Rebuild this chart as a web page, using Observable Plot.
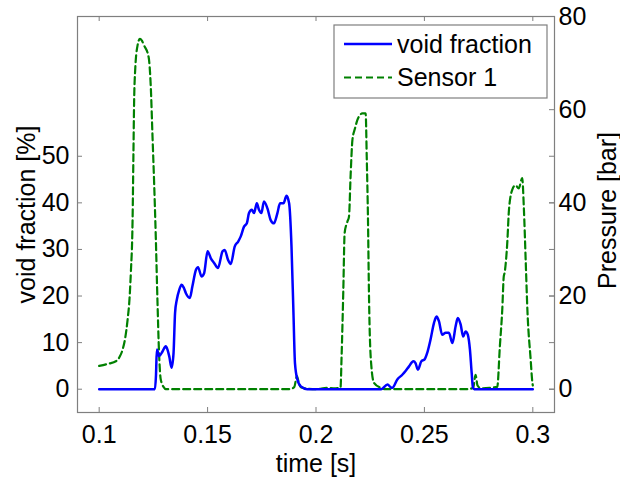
<!DOCTYPE html>
<html>
<head>
<meta charset="utf-8">
<script src="https://cdn.jsdelivr.net/npm/d3@7"></script>
<script src="https://cdn.jsdelivr.net/npm/@observablehq/plot@0.6"></script>
<style>
  html, body { margin: 0; padding: 0; background: #fff; }
  #chart { position: relative; width: 620px; height: 480px; }
</style>
</head>
<body>
<div id="chart"></div>
<script>
// ---- data ----
const voidT = [0.100,0.1257,0.1262,0.1266,0.1277,0.1292,0.1307,0.1315,0.1323,0.1334,0.1343,0.1350,0.1358,0.1369,0.1380,0.1390,0.1400,0.1418,0.1430,0.1446,0.1456,0.1472,0.1484,0.1500,0.1515,0.1530,0.1548,0.1569,0.1579,0.1594,0.1607,0.1625,0.1641,0.1653,0.1668,0.1681,0.1691,0.1704,0.1714,0.1727,0.1737,0.1748,0.1760,0.1776,0.1791,0.1806,0.1822,0.1834,0.1850,0.1864,0.1876,0.1887,0.1896,0.1903,0.1914,0.1930,0.1960,0.2300,0.2330,0.2345,0.2352,0.2375,0.2398,0.2413,0.2429,0.2449,0.2459,0.2470,0.2486,0.2501,0.2513,0.2528,0.2544,0.2556,0.2567,0.2582,0.2598,0.2613,0.2629,0.2644,0.2654,0.2667,0.2679,0.2690,0.2700,0.2710,0.2718,0.2724,0.2730,0.3000];
const voidV = [0,0,3,8.5,7.1,8.1,9.2,8.5,7.1,4.6,7.8,16.4,19.2,21.3,22.4,21.8,20.6,19.6,22.1,25.6,26.2,24.2,24.9,29.6,28.1,27.1,26.0,29.6,29.9,27.8,26.9,30.6,31.7,32.8,34.9,35.6,37.8,38.5,37.8,39.9,38.5,37.8,40.3,38.8,36.3,35.6,37.8,39.9,39.9,41.5,39.9,30.6,16.4,5.6,2.1,0.6,0,0,1.0,0.4,0.3,2.1,3.1,3.9,4.9,6.0,5.6,4.2,6.0,6.4,7.8,10.6,14.2,15.6,14.6,11.7,12.1,12.1,9.9,13.5,15.3,13.9,11.3,12.4,11.7,8.5,3.5,0.3,0,0];

const sensorT = [0.100,0.1045,0.1077,0.1095,0.1108,0.1120,0.1131,0.1140,0.1146,0.1154,0.1158,0.1161,0.1166,0.1177,0.1188,0.1197,0.1207,0.1228,0.1238,0.1246,0.1254,0.1261,0.1269,0.1276,0.1284,0.1300,0.1307,0.1400,0.1600,0.1800,0.1880,0.1900,0.1912,0.1920,0.1930,0.1960,0.2000,0.2050,0.2080,0.2113,0.2118,0.2126,0.2132,0.2145,0.2152,0.2160,0.2168,0.2180,0.2191,0.2214,0.2229,0.2234,0.2240,0.2244,0.2252,0.2267,0.2298,0.2320,0.2500,0.2700,0.2725,0.2736,0.2745,0.2760,0.2800,0.2836,0.2848,0.2859,0.2866,0.2870,0.2882,0.2890,0.2905,0.2920,0.2935,0.2951,0.2959,0.2967,0.2975,0.2990,0.2998,0.3000];
const sensorP = [5.0,5.5,6.0,7.0,8.5,11,14.9,19.5,25,36.3,50.7,61.4,68.5,73.8,75.2,74.8,73.8,71.3,64.9,54.2,43.5,32.8,18.6,7.9,2.1,0.3,0,0,0,0,0,0.5,2.8,1.5,0.4,0.1,0,0.3,0.2,0.3,7,21.3,33.5,36,37,46.3,53.5,56,57.8,59.2,59.2,49.9,35.7,21.3,7.1,1.4,0.3,0,0,0,0.3,3.1,0.8,0.2,0.3,0.5,9.2,17,24.2,25.0,31.3,38.5,42.8,43.8,43.1,45.3,38.5,27.8,17,6.4,1.4,0.8];

const xTicks = [0.1, 0.15, 0.2, 0.25, 0.3];
const xTickLabels = ["0.1", "0.15", "0.2", "0.25", "0.3"];
const leftTicks = [0, 10, 20, 30, 40, 50];
const rightTicks = [0, 20, 40, 60, 80];
const seriesNames = ["void fraction", "Sensor 1"];
const xLabel = "time [s]";
const leftLabel = "void fraction [%]";
const rightLabel = "Pressure [bar]";

// ---- build tables ----
const voidData = voidT.map((t, i) => ({t, v: voidV[i]}));
const sensorData = sensorT.map((t, i) => ({t, v: sensorP[i]}));

const W = 620, H = 480;
const mL = 77, mR = 66, mT = 16, mB = 68;
const pw = W - mL - mR, ph = H - mT - mB;
const axisColor = "#7f7f7f";
const blue = "#0000ff", green = "#008000";
const tickLen = 5;

const chart = Plot.plot({
  width: W, height: H,
  marginLeft: mL, marginRight: mR, marginTop: mT, marginBottom: mB,
  style: {fontFamily: "'Liberation Sans', Arial, sans-serif", fontSize: "25px", color: "#000", background: "#fff"},
  x: {domain: [0.09, 0.31]},
  y: {domain: [-5, 80]},
  marks: [
    Plot.frame({stroke: axisColor, strokeWidth: 1.2}),
    // ticks pointing inward (left, right, top, bottom)
    Plot.tickY(leftTicks, {y: d => d, insetRight: pw - tickLen, stroke: axisColor}),
    Plot.tickY(leftTicks, {y: d => d, insetLeft: pw - tickLen, stroke: axisColor}),
    Plot.tickY(rightTicks, {y: d => d, insetLeft: pw - tickLen, stroke: axisColor}),
    Plot.tickX(xTicks, {x: d => d, insetBottom: ph - tickLen, stroke: axisColor}),
    Plot.tickX(xTicks, {x: d => d, insetTop: ph - tickLen, stroke: axisColor}),
    Plot.axisX({ticks: xTicks, tickFormat: (d, i) => xTickLabels[i], tickSize: 0, tickPadding: 13, label: null, fill: "#000"}),
    Plot.axisY({anchor: "left", ticks: leftTicks, tickFormat: d => String(d), tickSize: 0, tickPadding: 8, label: null, fill: "#000"}),
    Plot.axisY({anchor: "right", ticks: rightTicks, tickFormat: d => String(d), tickSize: 0, tickPadding: 4, label: null, fill: "#000"}),
    Plot.line(sensorData, {x: "t", y: "v", stroke: green, strokeWidth: 2.2, strokeDasharray: "7,4", curve: "monotone-x"}),
    Plot.line(voidData, {x: "t", y: "v", stroke: blue, strokeWidth: 2.5, curve: "monotone-x"}),
    Plot.text([xLabel], {frameAnchor: "bottom", dy: 51, textAnchor: "middle", lineAnchor: "middle", fontSize: 25, fill: "#000"}),
    Plot.text([leftLabel], {frameAnchor: "left", dx: -51, rotate: -90, textAnchor: "middle", lineAnchor: "middle", fontSize: 25, fill: "#000"}),
    Plot.text([rightLabel], {frameAnchor: "right", dx: 53, dy: -4, rotate: -90, textAnchor: "middle", lineAnchor: "middle", fontSize: 25, fill: "#000"})
  ]
});

// ---- legend inside the plot, top right ----
const svg = d3.select(chart);
const lg = svg.append("g").attr("class", "legend").attr("text-anchor", "start");
const lx = 334, ly = 25, lw = 213, lh = 73;
lg.append("rect").attr("x", lx).attr("y", ly).attr("width", lw).attr("height", lh)
  .attr("fill", "#fff").attr("stroke", axisColor).attr("stroke-width", 1.2);
const entries = [
  {name: seriesNames[0], color: blue, dash: null, width: 2.5},
  {name: seriesNames[1], color: green, dash: "7,4", width: 2.2}
];
entries.forEach((e, i) => {
  const cy = ly + 19 + i * 33.5;
  const ln = lg.append("line").attr("x1", lx + 10).attr("x2", lx + 58).attr("y1", cy).attr("y2", cy)
    .attr("stroke", e.color).attr("stroke-width", e.width);
  if (e.dash) ln.attr("stroke-dasharray", e.dash);
  lg.append("text").attr("x", lx + 63).attr("y", cy).attr("dy", "0.35em")
    .attr("text-anchor", "start").attr("font-size", 25).attr("fill", "#000").text(e.name);
});

document.getElementById("chart").appendChild(chart);
</script>
</body>
</html>
